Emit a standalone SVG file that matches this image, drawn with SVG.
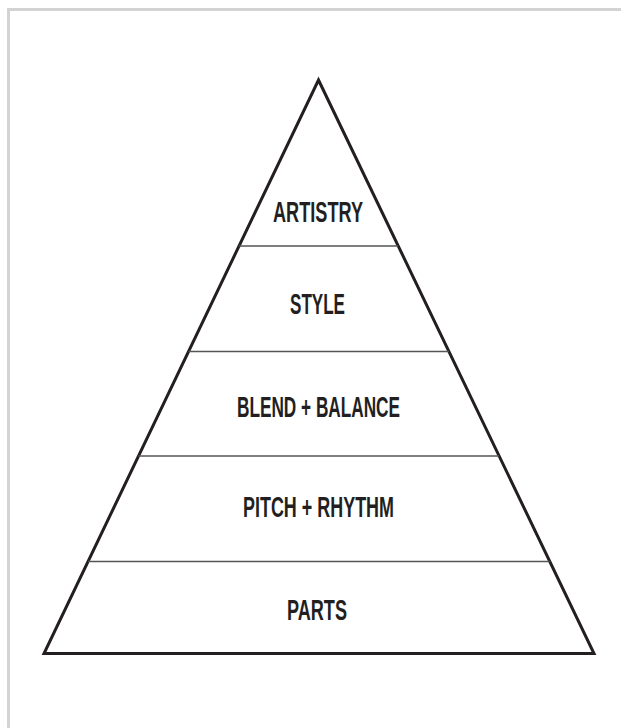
<svg xmlns="http://www.w3.org/2000/svg" width="621" height="728" viewBox="0 0 621 728">
  <style>
    .frame { fill: none; stroke: #d3d3d3; stroke-width: 3; }
    .tri { fill: #ffffff; stroke: #231f20; stroke-width: 3; stroke-linejoin: miter; stroke-miterlimit: 20; }
    .div { stroke: #555555; stroke-width: 1.5; }
    .lbl { font-family: "Liberation Sans", Arial, sans-serif; font-size: 29px; font-weight: bold; fill: #231f20; text-anchor: middle; }
  </style>
  <rect width="621" height="728" fill="#ffffff"/>
  <rect class="frame" x="8.5" y="9.5" width="640" height="740"/>
  <g id="pyramid">
    <path class="tri" d="M318.5,80 L594,653.5 L44,653.5 Z"/>
  </g>
  <g id="connectors">
    <line class="div" x1="239.1" y1="246" x2="398.2" y2="246"/>
    <line class="div" x1="188.6" y1="351.5" x2="448.9" y2="351.5"/>
    <line class="div" x1="138.5" y1="456" x2="499.1" y2="456"/>
    <line class="div" x1="88.1" y1="561.5" x2="549.8" y2="561.5"/>
  </g>
  <g id="artistry"><text class="lbl" x="318" y="222" textLength="90" lengthAdjust="spacingAndGlyphs">ARTISTRY</text></g>
  <g id="style"><text class="lbl" x="317.5" y="314" textLength="55" lengthAdjust="spacingAndGlyphs">STYLE</text></g>
  <g id="blend-balance"><text class="lbl" x="318.5" y="417" textLength="163" lengthAdjust="spacingAndGlyphs">BLEND + BALANCE</text></g>
  <g id="pitch-rhythm"><text class="lbl" x="318.5" y="517" textLength="151" lengthAdjust="spacingAndGlyphs">PITCH + RHYTHM</text></g>
  <g id="parts"><text class="lbl" x="317" y="620" textLength="60" lengthAdjust="spacingAndGlyphs">PARTS</text></g>
</svg>
